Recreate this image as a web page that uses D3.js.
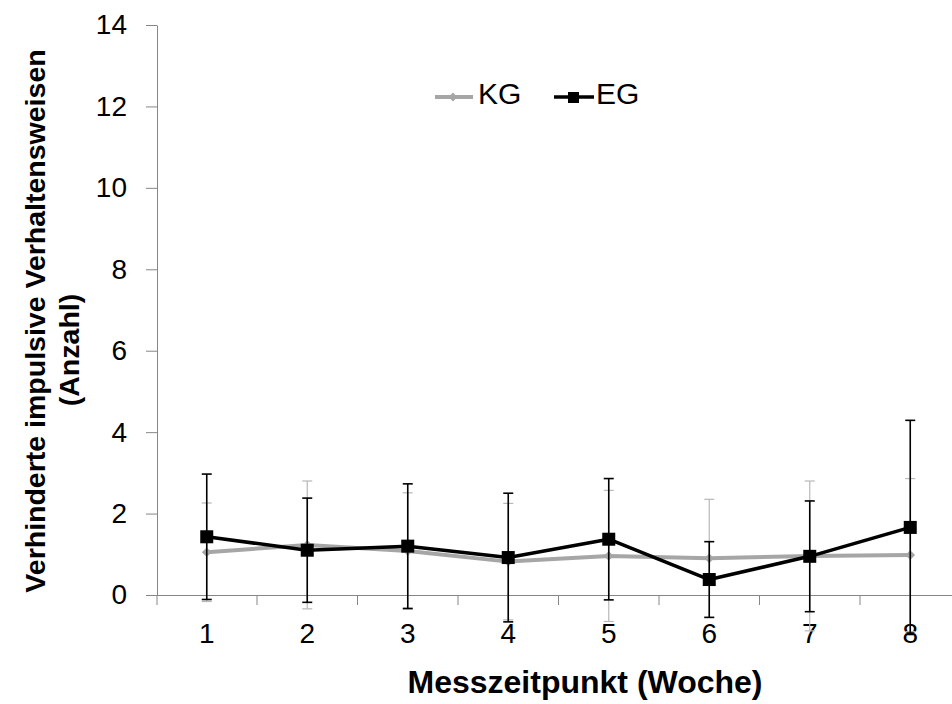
<!DOCTYPE html>
<html>
<head>
<meta charset="utf-8">
<script src="https://cdn.jsdelivr.net/npm/d3@7"></script>
<style>
  body { margin: 0; background: #fff; }
  svg { display: block; font-family: "Liberation Sans", Arial, sans-serif; }
</style>
</head>
<body>
<svg id="chart" width="952" height="704"></svg>
<script>
/* global d3 */

// Messzeitpunkte (Woche)
const weeks = ['1', '2', '3', '4', '5', '6', '7', '8'];
// Kontrollgruppe: Mittelwert und Standardabweichung
const kgMean = [1.05, 1.23, 1.08, 0.82, 0.96, 0.9, 0.96, 0.98];
const kgSd = [1.21, 1.57, 1.43, 1.43, 1.61, 1.45, 1.84, 1.88];
// Experimentalgruppe
const egMean = [1.43, 1.1, 1.2, 0.92, 1.37, 0.38, 0.95, 1.66];
const egSd = [1.54, 1.28, 1.53, 1.58, 1.49, 0.93, 1.36, 2.63];
const yTicks = [0, 2, 4, 6, 8, 10, 12, 14];

const svg = d3.select('#chart');
const axisColor = '#868686';
const kgColor = '#a6a6a6';
const egColor = '#000000';
const font = '"Liberation Sans", Arial, sans-serif';

const x = d3.scaleBand().domain(weeks).range([156.5, 960.5]);
const y = d3.scaleLinear().domain([0, 14]).range([595, 25]);

// y axis
const yAxis = svg.append('g')
  .attr('transform', 'translate(157,0)')
  .call(d3.axisLeft(y).tickValues(yTicks).tickSize(11).tickSizeOuter(0).tickPadding(19));
yAxis.select('.domain').attr('stroke', axisColor);
yAxis.selectAll('.tick line').attr('stroke', axisColor);
yAxis.selectAll('.tick text')
  .attr('font-size', 28).attr('fill', '#000')
  .attr('font-family', font);

// y axis continues a little below zero
svg.append('line')
  .attr('x1', 157).attr('x2', 157)
  .attr('y1', y(0)).attr('y2', y(0) + 10)
  .attr('stroke', axisColor);

// x axis labels
const xAxis = svg.append('g')
  .attr('transform', `translate(0,${y(0)})`)
  .call(d3.axisBottom(x).tickSize(0).tickPadding(28));
xAxis.select('.domain').attr('stroke', axisColor);
xAxis.selectAll('.tick text')
  .attr('font-size', 28).attr('fill', '#000')
  .attr('font-family', font);

// tick marks between categories
const bounds = weeks.slice(1).map((d) => x(d));
xAxis.selectAll('.sep')
  .data(bounds)
  .enter().append('line')
  .attr('class', 'sep')
  .attr('x1', (d) => d).attr('x2', (d) => d)
  .attr('y1', 0).attr('y2', 10)
  .attr('stroke', axisColor);

const cx = (d) => x(d) + x.bandwidth() / 2;

function drawSeries(mean, sd, color, lineW, errW, errColor) {
  const g = svg.append('g');
  const rows = weeks.map((w, i) => ({ w, m: mean[i], s: sd[i] }));

  // error bars
  const eb = g.selectAll('.eb').data(rows).enter().append('g');
  eb.append('line')
    .attr('x1', (d) => cx(d.w)).attr('x2', (d) => cx(d.w))
    .attr('y1', (d) => y(d.m + d.s)).attr('y2', (d) => y(d.m - d.s))
    .attr('stroke', errColor).attr('stroke-width', errW);
  [1, -1].forEach((sign) => {
    eb.append('line')
      .attr('x1', (d) => cx(d.w) - 5).attr('x2', (d) => cx(d.w) + 5)
      .attr('y1', (d) => y(d.m + sign * d.s)).attr('y2', (d) => y(d.m + sign * d.s))
      .attr('stroke', errColor).attr('stroke-width', errW);
  });

  const line = d3.line().x((d) => cx(d.w)).y((d) => y(d.m));
  g.append('path')
    .datum(rows)
    .attr('d', line)
    .attr('fill', 'none')
    .attr('stroke', color)
    .attr('stroke-width', lineW)
    .attr('stroke-linejoin', 'round');
  return { g, rows };
}

// KG
const kg = drawSeries(kgMean, kgSd, kgColor, 4, 1.2, '#b8b8b8');
kg.g.selectAll('.mk').data(kg.rows).enter().append('path')
  .attr('d', d3.symbol(d3.symbolDiamond2, 60))
  .attr('transform', (d) => `translate(${cx(d.w)},${y(d.m)})`)
  .attr('fill', kgColor);

// EG
const eg = drawSeries(egMean, egSd, egColor, 3.5, 1.6, '#000');
eg.g.selectAll('.mk').data(eg.rows).enter().append('rect')
  .attr('x', (d) => cx(d.w) - 6.5).attr('y', (d) => y(d.m) - 6.5)
  .attr('width', 13).attr('height', 13)
  .attr('fill', egColor);

// legend
const legend = svg.append('g');
legend.append('line').attr('x1', 435).attr('x2', 473).attr('y1', 97).attr('y2', 97)
  .attr('stroke', kgColor).attr('stroke-width', 4);
legend.append('path').attr('d', d3.symbol(d3.symbolDiamond2, 50))
  .attr('transform', 'translate(453,97)').attr('fill', kgColor);
legend.append('text').attr('x', 478).attr('y', 104).attr('font-size', 30).text('KG');
legend.append('line').attr('x1', 554).attr('x2', 594).attr('y1', 97).attr('y2', 97)
  .attr('stroke', egColor).attr('stroke-width', 3.5);
legend.append('rect').attr('x', 568).attr('y', 92).attr('width', 11).attr('height', 11)
  .attr('fill', egColor);
legend.append('text').attr('x', 596).attr('y', 104).attr('font-size', 30).text('EG');

// axis titles
svg.append('text')
  .attr('transform', 'translate(45,321) rotate(-90)')
  .attr('text-anchor', 'middle')
  .attr('font-size', 28.5).attr('font-weight', 'bold')
  .text('Verhinderte impulsive Verhaltensweisen');
svg.append('text')
  .attr('transform', 'translate(79,350) rotate(-90)')
  .attr('text-anchor', 'middle')
  .attr('font-size', 28.5).attr('font-weight', 'bold')
  .text('(Anzahl)');
svg.append('text')
  .attr('x', 585).attr('y', 693)
  .attr('text-anchor', 'middle')
  .attr('font-size', 32).attr('font-weight', 'bold')
  .text('Messzeitpunkt (Woche)');
</script>
</body>
</html>
